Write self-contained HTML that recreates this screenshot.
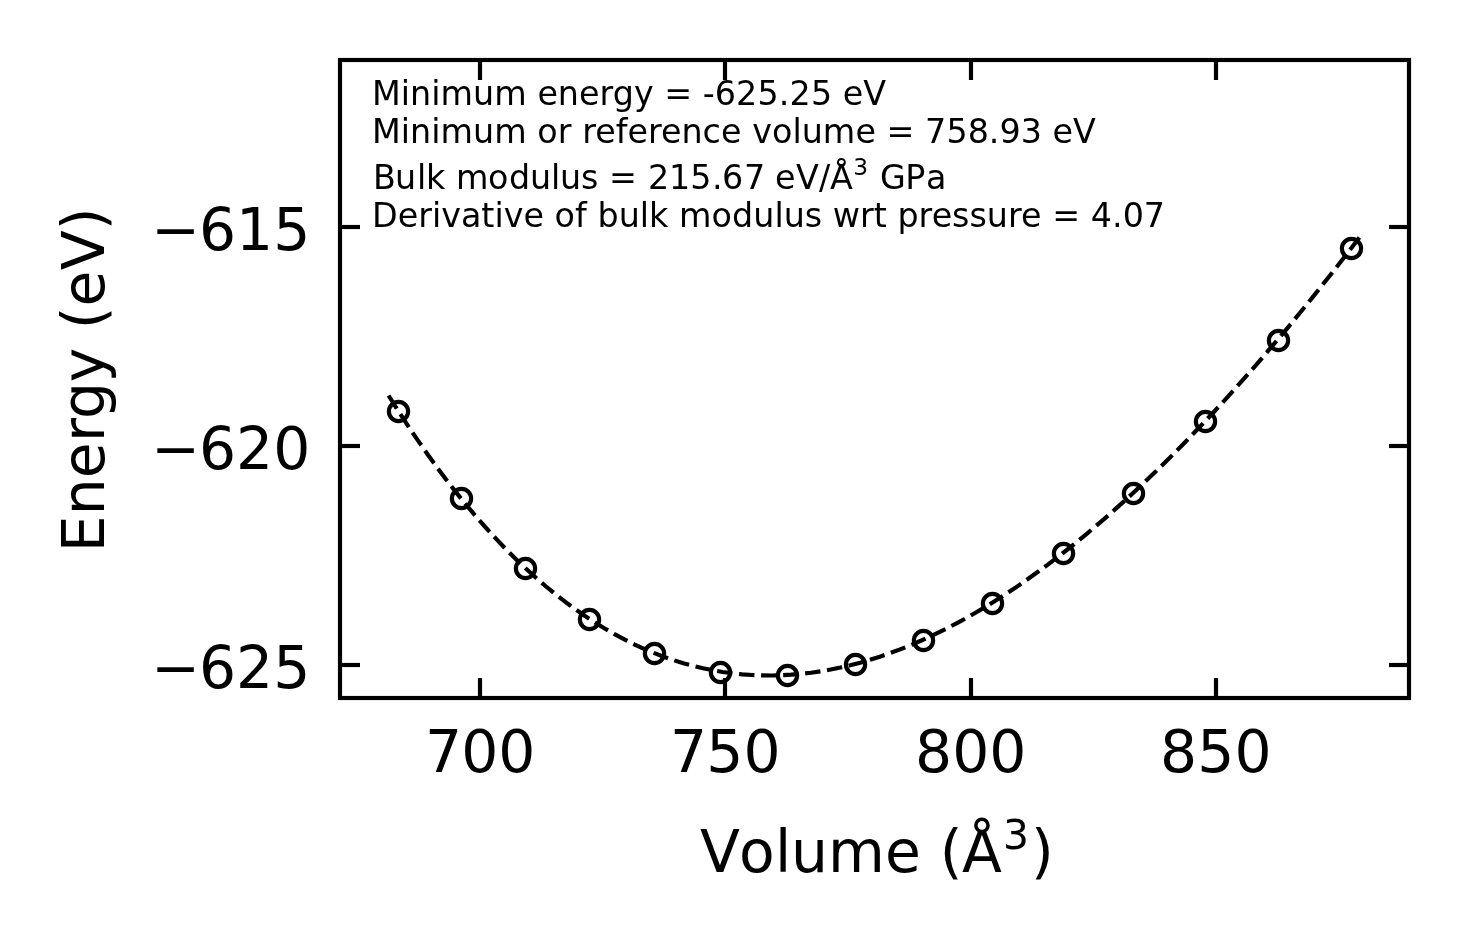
<!DOCTYPE html>
<html lang="en"><head><meta charset="utf-8"><title>Equation of state fit</title>
<style>html,body{margin:0;padding:0;background:#fff}body{width:1469px;height:943px;overflow:hidden}svg{display:block}</style>
</head><body>
<svg width="1469" height="943" viewBox="0 0 1469 943">
<rect width="1469" height="943" fill="#fff"/>
<!-- data points -->
<g fill="none" stroke="#000" stroke-width="4.1667">
<circle cx="398.50" cy="411.50" r="9.63"/>
<circle cx="461.50" cy="498.50" r="9.63"/>
<circle cx="525.50" cy="568.50" r="9.63"/>
<circle cx="589.50" cy="619.50" r="9.63"/>
<circle cx="654.50" cy="653.50" r="9.63"/>
<circle cx="720.50" cy="672.50" r="9.63"/>
<circle cx="787.50" cy="675.50" r="9.63"/>
<circle cx="855.50" cy="664.50" r="9.63"/>
<circle cx="923.50" cy="640.50" r="9.63"/>
<circle cx="992.50" cy="603.50" r="9.63"/>
<circle cx="1063.50" cy="553.50" r="9.63"/>
<circle cx="1133.50" cy="493.50" r="9.63"/>
<circle cx="1205.50" cy="421.50" r="9.63"/>
<circle cx="1278.50" cy="340.50" r="9.63"/>
<circle cx="1351.50" cy="248.50" r="9.63"/>
</g>
<!-- Birch-Murnaghan fit -->
<polyline points="388.56,395.50 398.38,411.08 408.21,426.14 418.03,440.69 427.86,454.73 437.68,468.28 447.51,481.33 457.33,493.90 467.16,505.99 476.98,517.60 486.80,528.75 496.63,539.45 506.45,549.69 516.28,559.48 526.10,568.83 535.93,577.75 545.75,586.24 555.58,594.31 565.40,601.95 575.23,609.19 585.05,616.02 594.88,622.45 604.70,628.49 614.53,634.13 624.35,639.39 634.18,644.27 644.00,648.78 653.83,652.92 663.65,656.69 673.48,660.10 683.30,663.16 693.13,665.87 702.95,668.23 712.78,670.25 722.60,671.94 732.43,673.30 742.25,674.32 752.07,675.03 761.90,675.41 771.72,675.48 781.55,675.24 791.37,674.70 801.20,673.85 811.02,672.71 820.85,671.27 830.67,669.54 840.50,667.52 850.32,665.22 860.15,662.65 869.97,659.80 879.80,656.67 889.62,653.28 899.45,649.62 909.27,645.71 919.10,641.53 928.92,637.11 938.75,632.43 948.57,627.50 958.40,622.33 968.22,616.92 978.05,611.27 987.87,605.39 997.70,599.27 1007.52,592.93 1017.34,586.36 1027.17,579.57 1036.99,572.56 1046.82,565.33 1056.64,557.89 1066.47,550.24 1076.29,542.38 1086.12,534.32 1095.94,526.05 1105.77,517.58 1115.59,508.92 1125.42,500.06 1135.24,491.00 1145.07,481.76 1154.89,472.33 1164.72,462.72 1174.54,452.92 1184.37,442.95 1194.19,432.79 1204.02,422.46 1213.84,411.96 1223.67,401.29 1233.49,390.45 1243.32,379.45 1253.14,368.28 1262.97,356.94 1272.79,345.45 1282.61,333.80 1292.44,322.00 1302.26,310.04 1312.09,297.93 1321.91,285.68 1331.74,273.27 1341.56,260.72 1351.39,248.03 1361.21,235.19" fill="none" stroke="#000" stroke-width="4.1667" stroke-dasharray="15.417 6.667" stroke-linejoin="round"/>
<!-- ticks and frame -->
<g stroke="#000" stroke-width="4.1667" fill="none">
<path d="M480 698V678M480 60V80"/>
<path d="M725 698V678M725 60V80"/>
<path d="M971 698V678M971 60V80"/>
<path d="M1216 698V678M1216 60V80"/>
<rect x="340" y="224.9167" width="20" height="4.1667" fill="#000" stroke="none"/><rect x="1389" y="224.9167" width="20" height="4.1667" fill="#000" stroke="none"/>
<rect x="340" y="443.9167" width="20" height="4.1667" fill="#000" stroke="none"/><rect x="1389" y="443.9167" width="20" height="4.1667" fill="#000" stroke="none"/>
<rect x="340" y="662.9167" width="20" height="4.1667" fill="#000" stroke="none"/><rect x="1389" y="662.9167" width="20" height="4.1667" fill="#000" stroke="none"/>
<rect x="340" y="60" width="1069" height="638"/>
</g>
<!-- labels -->
<g font-family='"DejaVu Sans", "Liberation Sans", sans-serif' fill="#000" style="font-kerning:none">
<text x="425.07 461.19 498.28" y="772.00" font-size="58.33">700</text>
<text x="670.09 706.31 743.46" y="772.00" font-size="58.33">750</text>
<text x="915.08 952.16 989.32" y="772.00" font-size="58.33">800</text>
<text x="1160.10 1197.36 1234.43" y="772.00" font-size="58.33">850</text>
<text x="151.14 198.93 235.94 273.36" y="249.90" font-size="58.33">−615</text>
<text x="151.14 198.94 235.98 273.13" y="468.90" font-size="58.33">−620</text>
<text x="151.14 198.93 236.11 273.36" y="687.90" font-size="58.33">−625</text>
<text font-size="58.33"><tspan x="700.03 739.01 775.02 791.12 827.95 885.12 921.00 939.87 961.95" y="871.50">Volume (Å</tspan><tspan x="1003.12" y="849.10" font-size="40.83">3</tspan><tspan x="1031.08" y="871.50">)</tspan></text>
<text transform="translate(104.00,379.75) rotate(-90)" x="-172.56 -135.39 -98.38 -62.37 -39.32 -2.38 32.25 50.57 73.38 109.42 149.43" y="0.00" font-size="58.33">Energy (eV)</text>
<text x="371.96 400.73 410.06 431.16 440.45 473.05 494.26 526.75 537.46 557.83 579.05 599.40 612.66 633.93 653.62 664.21 692.12 702.70 714.85 736.08 757.43 778.78 789.49 810.88 832.00 842.77 863.13" y="105.00" font-size="33.33">Minimum energy = -625.25 eV</text>
<text x="371.96 400.73 410.06 431.16 440.45 473.06 494.26 526.75 537.37 557.68 571.62 582.13 595.28 615.79 627.55 647.91 661.04 681.54 702.62 721.05 741.50 752.13 771.88 792.38 801.66 822.81 855.46 875.88 886.46 914.38 925.07 946.39 967.63 988.78 999.40 1020.82 1041.88 1052.55 1073.04" y="143.00" font-size="33.33">Minimum or reference volume = 758.93 eV</text>
<text font-size="33.33"><tspan x="373.10 395.06 416.94 425.96 445.00 456.07 488.10 508.97 530.06 550.94 560.06 580.91 599.00 608.94 637.00 648.08 668.95 690.14 712.10 722.11 744.07 765.00 775.05 796.04 819.01 830.12" y="189.00">Bulk modulus = 215.67 eV/Å</tspan><tspan x="853.15" y="174.70" font-size="23.33">3</tspan><tspan x="869.00 880.11 905.14 925.92" y="189.00"> GPa</tspan></text>
<text x="372.07 397.81 418.18 431.94 441.29 460.92 481.34 494.38 503.63 523.46 543.88 554.58 575.03 586.75 597.52 618.66 639.73 648.96 668.25 678.97 711.58 731.96 753.31 774.38 783.66 804.66 822.12 832.76 859.95 873.80 886.75 897.52 918.50 931.76 952.12 969.40 986.84 1007.91 1021.04 1041.50 1052.16 1080.00 1090.63 1111.97 1122.69 1143.86" y="227.00" font-size="33.33">Derivative of bulk modulus wrt pressure = 4.07</text>
</g>
</svg>
</body></html>
